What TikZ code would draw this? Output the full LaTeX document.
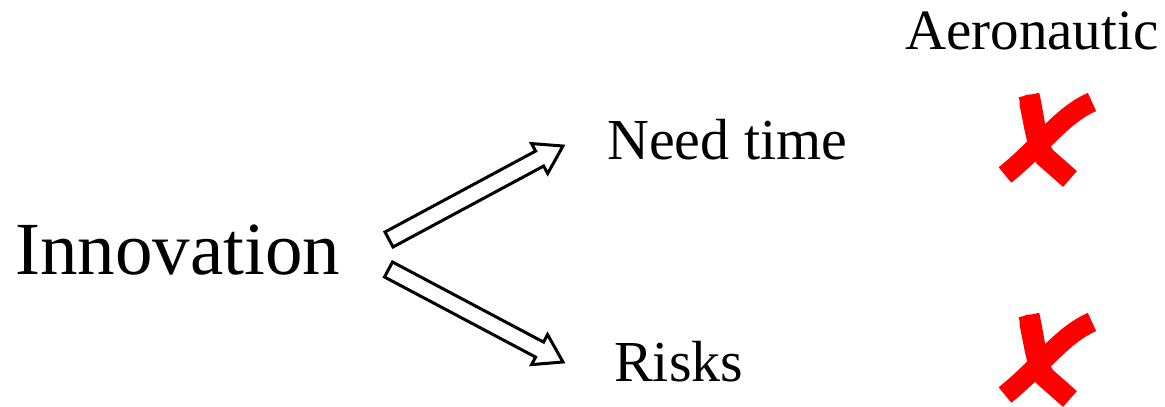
\documentclass[tikz,border=0pt]{standalone}
\usepackage{fontspec}
\setmainfont{Liberation Serif}
\begin{document}
\begin{tikzpicture}[x=1pt,y=1pt,
  lbl/.style={anchor=base west,inner sep=0pt,font=\fontsize{58}{60}\selectfont},
  bigarrow/.style={draw=black,line width=3pt,fill=white,line join=miter},
  cross/.style={draw=red,line width=21pt,line cap=butt}]
\useasboundingbox (0,0) rectangle (1165,407);
\node[lbl,font=\fontsize{75}{77}\selectfont] (inno) at (15,132) {Innovation};
\node[lbl] (need) at (607,247) {Need time};
\node[lbl] (risk) at (614,25) {Risks};
\node[lbl,font=\fontsize{57}{59}\selectfont] (aero) at (905,357) {Aeronautic};
% arrows
\coordinate (t1) at (389,167.5);
\coordinate (t2) at (388.5,137.5);
\draw[bigarrow,shift={(t1)},rotate=28.25]
  (0,-8.5) -- (171,-8.5) -- (171,-17) -- (197.5,0) -- (171,17) -- (171,8.5) -- (0,8.5) -- cycle;
\draw[bigarrow,shift={(t2)},rotate=-27.93]
  (0,-8.5) -- (171,-8.5) -- (171,-17) -- (197.5,0) -- (171,17) -- (171,8.5) -- (0,8.5) -- cycle;
% crosses
\foreach \dy/\nm in {0/c1,-220/c2}{
  \begin{scope}[yshift=\dy]
    \draw[cross,line cap=round,line width=19pt] (1029,303) .. controls (1033,285) and (1036,262) .. (1042,256);
    \draw[cross] (1029,312) .. controls (1035,285) and (1036,262) .. (1045,250) -- (1070,228);
    \draw[cross,line width=20pt] (1092,305) .. controls (1062,292) and (1042,262) .. (1005,232);
  \end{scope}
}
\end{tikzpicture}
\end{document}
